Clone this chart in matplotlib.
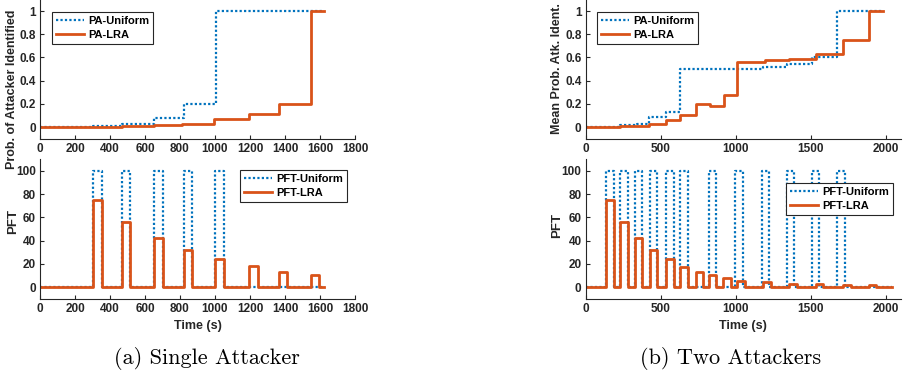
import numpy as np
import matplotlib
matplotlib.use("Agg")
import matplotlib.pyplot as plt

# ---------------- data ----------------
# (a) single attacker: probability of attacker identified (step series)
a_pa_uni_t = [0, 303, 467, 649, 822, 1003, 1622]
a_pa_uni_v = [0, 0.012, 0.03, 0.08, 0.2, 1.0, 1.0]
a_pa_lra_t = [0, 303, 467, 649, 812, 997, 1197, 1366, 1548, 1622]
a_pa_lra_v = [0, 0.003, 0.008, 0.015, 0.03, 0.066, 0.115, 0.2, 1.0, 1.0]

# (a) PFT pulses
a_pft_uni_start = [303, 467, 649, 822, 1001]
a_pft_uni_end = [352, 515, 701, 870, 1049]
a_pft_uni_val = [100, 100, 100, 100, 100]
a_pft_lra_start = [303, 467, 649, 822, 1001, 1197, 1366, 1548]
a_pft_lra_end = [352, 515, 701, 870, 1049, 1245, 1414, 1596]
a_pft_lra_val = [75, 56, 42, 32, 24, 18, 13, 10]
a_t_end = 1622

# (b) two attackers: mean probability of attacker identified
b_pa_uni_t = [0, 229, 340, 424, 538, 629, 1184, 1340, 1507, 1678, 1984]
b_pa_uni_v = [0, 0.014, 0.03, 0.087, 0.127, 0.5, 0.52, 0.543, 0.6, 1.0, 1.0]
b_pa_lra_t = [0, 229, 329, 424, 536, 629, 736, 829, 922, 1011, 1196, 1358, 1536, 1718, 1889, 1984]
b_pa_lra_v = [0, 0.005, 0.012, 0.03, 0.058, 0.1, 0.2, 0.18, 0.277, 0.56, 0.575, 0.587, 0.63, 0.75, 1.0, 1.0]

# (b) PFT pulses
b_pft_uni_start = [136, 229, 329, 429, 536, 629, 820, 998, 1173, 1340, 1507, 1676]
b_pft_uni_end = [186, 280, 378, 478, 586, 682, 870, 1047, 1225, 1391, 1557, 1729]
b_pft_uni_val = [100] * 12
b_pft_lra_start = [136, 229, 329, 429, 536, 629, 736, 820, 918, 1011, 1184, 1358, 1536, 1716, 1887]
b_pft_lra_end = [186, 280, 378, 478, 586, 682, 784, 870, 968, 1062, 1238, 1408, 1584, 1767, 1938]
b_pft_lra_val = [75, 56, 42, 32, 24, 17.5, 13, 10, 7.5, 5.5, 4, 2.8, 2.3, 1.8, 1.4]
b_t_end = 2040

a_xticks = [0, 200, 400, 600, 800, 1000, 1200, 1400, 1600, 1800]
b_xticks = [0, 500, 1000, 1500, 2000]
pa_yticks = [0, 0.2, 0.4, 0.6, 0.8, 1]
pa_yticklabels = ["0", "0.2", "0.4", "0.6", "0.8", "1"]
pft_yticks = [0, 20, 40, 60, 80, 100]

BLUE = "#0072BD"
ORANGE = "#D95319"
FONT = "Liberation Sans"
plt.rcParams["font.family"] = [FONT, "DejaVu Sans"]
plt.rcParams["font.weight"] = "bold"


def pulses_to_steps(starts, ends, vals, t_end):
    t = [0]
    v = [0]
    for s, e, h in zip(starts, ends, vals):
        t += [s, e]
        v += [h, 0]
    t.append(t_end)
    v.append(0)
    return t, v


W, H = 907, 381
fig = plt.figure(figsize=(W / 100, H / 100), dpi=100)


def px_axes(x0, x1, ytop, ybot):
    return fig.add_axes([x0 / W, 1 - ybot / H, (x1 - x0) / W, (ybot - ytop) / H])


def style(ax, xlim, xticks, ylim, yticks, yticklabels=None):
    ax.set_xlim(*xlim)
    ax.set_ylim(*ylim)
    ax.set_xticks(xticks)
    ax.set_yticks(yticks)
    if yticklabels is not None:
        ax.set_yticklabels(yticklabels)
    for s in ["top", "right"]:
        ax.spines[s].set_visible(False)
    for s in ["left", "bottom"]:
        ax.spines[s].set_color("#262626")
        ax.spines[s].set_linewidth(0.8)
    ax.tick_params(direction="in", length=3, width=0.8, color="#262626",
                   labelsize=8.5, pad=3, labelcolor="#262626")
    for lab in ax.get_xticklabels() + ax.get_yticklabels():
        lab.set_fontweight("bold")


def legend(ax, x, y):
    lg = ax.legend(loc="upper left", bbox_to_anchor=(x, y), borderaxespad=0,
                   fancybox=False, edgecolor="#262626", framealpha=1,
                   prop={"family": FONT, "weight": "bold", "size": 8},
                   handlelength=2.5, handletextpad=0.4, borderpad=0.35,
                   labelspacing=0.35)
    lg.get_frame().set_linewidth(0.8)


DOT = (0, (1, 1))
LW_U = 1.6
LW_L = 2.0

axes_spec = {
    "a_top": (40, 355, -0.6, 138.6),
    "a_bot": (40, 355, 159.4, 298.6),
    "b_top": (585.7, 900.7, -0.6, 138.6),
    "b_bot": (585.7, 900.7, 159.4, 298.6),
}

# ---- (a) top
ax = px_axes(*axes_spec["a_top"])
ax.plot(a_pa_uni_t, a_pa_uni_v, drawstyle="steps-post", color=BLUE, lw=LW_U, ls=DOT, label="PA-Uniform")
ax.plot(a_pa_lra_t, a_pa_lra_v, drawstyle="steps-post", color=ORANGE, lw=LW_L, label="PA-LRA")
style(ax, (0, 1800), a_xticks, (-0.1, 1.1), pa_yticks, pa_yticklabels)
legend(ax, 0.038, 0.909)
fig.text(12 / W, 1 - 89 / H, "Prob. of Attacker Identified", rotation=90, ha="center", va="center",
         fontsize=9, fontweight="bold", family=FONT, color="#262626")

# ---- (a) bottom
ax = px_axes(*axes_spec["a_bot"])
t, v = pulses_to_steps(a_pft_uni_start, a_pft_uni_end, a_pft_uni_val, a_t_end)
ax.plot(t, v, drawstyle="steps-post", color=BLUE, lw=LW_U, ls=DOT, label="PFT-Uniform")
t, v = pulses_to_steps(a_pft_lra_start, a_pft_lra_end, a_pft_lra_val, a_t_end)
ax.plot(t, v, drawstyle="steps-post", color=ORANGE, lw=LW_L, label="PFT-LRA")
style(ax, (0, 1800), a_xticks, (-10, 110), pft_yticks)
legend(ax, 0.635, 0.924)
ax.set_xlabel("Time (s)", fontsize=9, fontweight="bold", labelpad=4, color="#262626")
fig.text(13 / W, 1 - 222 / H, "PFT", rotation=90, ha="center", va="center",
         fontsize=9.5, fontweight="bold", family=FONT, color="#262626")

# ---- (b) top
ax = px_axes(*axes_spec["b_top"])
ax.plot(b_pa_uni_t, b_pa_uni_v, drawstyle="steps-post", color=BLUE, lw=LW_U, ls=DOT, label="PA-Uniform")
ax.plot(b_pa_lra_t, b_pa_lra_v, drawstyle="steps-post", color=ORANGE, lw=LW_L, label="PA-LRA")
style(ax, (0, 2100), b_xticks, (-0.1, 1.1), pa_yticks, pa_yticklabels)
legend(ax, 0.036, 0.909)
fig.text(557 / W, 1 - 69 / H, "Mean Prob. Atk. Ident.", rotation=90, ha="center", va="center",
         fontsize=9, fontweight="bold", family=FONT, color="#262626")

# ---- (b) bottom
ax = px_axes(*axes_spec["b_bot"])
t, v = pulses_to_steps(b_pft_uni_start, b_pft_uni_end, b_pft_uni_val, b_t_end)
ax.plot(t, v, drawstyle="steps-post", color=BLUE, lw=LW_U, ls=DOT, label="PFT-Uniform")
t, v = pulses_to_steps(b_pft_lra_start, b_pft_lra_end, b_pft_lra_val, b_t_end)
ax.plot(t, v, drawstyle="steps-post", color=ORANGE, lw=LW_L, label="PFT-LRA")
style(ax, (0, 2100), b_xticks, (-10, 110), pft_yticks)
legend(ax, 0.636, 0.830)
ax.set_xlabel("Time (s)", fontsize=9, fontweight="bold", labelpad=4, color="#262626")
fig.text(557 / W, 1 - 226 / H, "PFT", rotation=90, ha="center", va="center",
         fontsize=9.5, fontweight="bold", family=FONT, color="#262626")

# captions
fig.text(207 / W, 1 - 358 / H, "(a) Single Attacker", ha="center", va="center",
         fontsize=16, family="cmr10", fontweight="normal")
fig.text(731 / W, 1 - 358 / H, "(b) Two Attackers", ha="center", va="center",
         fontsize=16, family="cmr10", fontweight="normal")

fig.savefig("out.png", dpi=100)
